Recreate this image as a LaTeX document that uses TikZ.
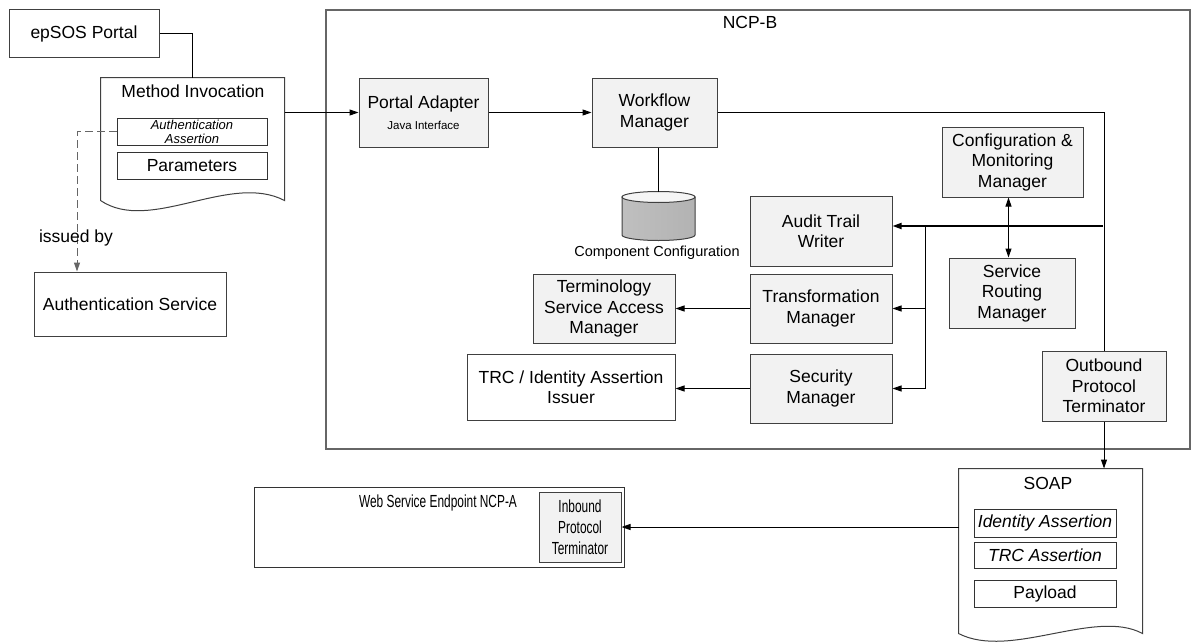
\documentclass[tikz,border=0pt]{standalone}
\usepackage{fontspec}
\usepackage{graphicx}
\setmainfont{Liberation Sans}
\newcommand{\squeeze}[1]{\scalebox{0.68}[1]{#1}}
\usetikzlibrary{positioning,arrows.meta}

\begin{document}
\begin{tikzpicture}[
x=1pt, y=-1pt, line width=1pt,
box/.style={draw=black!75, fill=gray!10, align=center, inner sep=2pt, font=\fontsize{17.5}{20.5}\selectfont},
plainbox/.style={box, fill=white},
subbox/.style={draw=black!80, fill=white, minimum width=150pt, minimum height=27pt, inner sep=0pt, align=center, font=\fontsize{17.5}{20}\selectfont},
label/.style={inner sep=0pt, align=center, font=\fontsize{17.5}{20.5}\selectfont},
doc/.style={draw=black!75, fill=white},
frame/.style={draw=black!60, line width=1.4pt},
arrow/.style={-{Triangle[length=9pt,width=6pt]}},
dblarrow/.style={{Triangle[length=9pt,width=6pt]}-{Triangle[length=9pt,width=6pt]}},
dasharrow/.style={arrow, draw=black!60, dash pattern=on 8pt off 4pt}
]
\useasboundingbox (0,0) rectangle (1191,642);
\clip (0,0) rectangle (1191,642);

% NCP-B frame
\node[frame, minimum width=864pt, minimum height=439pt] (ncpb) at (758,229.5) {};
\node[label] (ncpblabel) at (750,22) {NCP-B};

% left side
\node[plainbox, minimum width=150pt, minimum height=48pt] (portal) at (84,34) {epSOS Portal};
\node[minimum width=183pt, minimum height=122pt] (invoc) at (192.5,139) {};
\draw[doc] (invoc.north west) -- (invoc.north east) -- (invoc.south east)
  .. controls (230,172) and (150,234) .. (invoc.south west) -- cycle;
\node[label] (invoclabel) at (193,91) {Method Invocation};
\node[subbox, font=\fontsize{13}{14}\selectfont\itshape] (authas) at (192,131.5) {Authentication\\Assertion};
\node[subbox] (params) at (192,165.5) {Parameters};
\node[plainbox, minimum width=192pt, minimum height=64pt] (authsvc) at (130,304) {Authentication Service};

% NCP-B components
\node[box, minimum width=129pt, minimum height=69pt] (adapter) at (423.5,112.5) {Portal Adapter\\{\fontsize{11.5}{13}\selectfont Java Interface}};
\node[box, minimum width=125pt, minimum height=69pt] (workflow) at (654.5,112.5) {Workflow\\Manager};
\node[box, minimum width=141pt, minimum height=70pt] (config) at (1012.5,162) {Configuration \&\\Monitoring\\Manager};
\node[box, minimum width=142pt, minimum height=70pt] (audit) at (821,231) {Audit Trail\\Writer};
\node[box, minimum width=142pt, minimum height=69pt] (transf) at (821,308.5) {Transformation\\Manager};
\node[box, minimum width=142pt, minimum height=69pt] (security) at (821,388.5) {Security\\Manager};
\node[box, minimum width=126pt, minimum height=70pt] (routing) at (1012,293) {Service\\Routing\\Manager};
\node[box, minimum width=124pt, minimum height=70pt] (outbound) at (1104,386) {Outbound\\Protocol\\Terminator};
\node[box, minimum width=142pt, minimum height=69pt] (term) at (604,308.5) {Terminology\\Service Access\\Manager};
\node[plainbox, minimum width=208pt, minimum height=66pt] (trc) at (571,387) {TRC / Identity Assertion\\Issuer};

% component configuration store
\shade[left color=gray!50, middle color=gray!12, right color=gray!60, draw=black!75]
  (622,197) -- (622,235) arc[x radius=36.5, y radius=5.5, start angle=180, end angle=0]
  -- (695,197) -- cycle;
\filldraw[fill=gray!8, draw=black!75] (658.5,197) ellipse[x radius=36.5, y radius=5.5];
\coordinate (cyltop) at (658.5,191.5);
\node[label, font=\fontsize{14.5}{16}\selectfont] (cyllabel) at (657,253) {Component Configuration};

% NCP-A endpoint
\node[draw=black!80, minimum width=370pt, minimum height=80pt] (ncpa) at (439,527) {};
\node[label] (ncpalabel) at (438,503) {\squeeze{Web Service Endpoint NCP-A}};
\node[box, minimum width=82pt, minimum height=70pt, font=\fontsize{17.5}{21}\selectfont] (inbound) at (580,527) {\squeeze{Inbound}\\\squeeze{Protocol}\\\squeeze{Terminator}};

% SOAP message
\node[minimum width=183pt, minimum height=164pt] (soap) at (1050.5,551) {};
\draw[doc] (soap.north west) -- (soap.north east) -- (soap.south east)
  .. controls (1095,608) and (1010,660) .. (soap.south west) -- cycle;
\node[label] (soaplabel) at (1048,483) {SOAP};
\node[subbox, minimum width=142pt, minimum height=28pt, font=\fontsize{17.5}{20}\selectfont\itshape] (idas) at (1045,523) {Identity Assertion};
\node[subbox, minimum width=142pt, minimum height=26pt, font=\fontsize{17.5}{20}\selectfont\itshape] (trcas) at (1045,555) {TRC Assertion};
\node[subbox, minimum width=142pt, minimum height=27pt] (payload) at (1045,593.5) {Payload};

% connectors
\draw (portal.east) -| (invoc.north);
\draw[arrow] (invoc.east |- adapter.west) -- (adapter.west);
\draw[arrow] (adapter) -- (workflow);
\draw (workflow.east) -| (outbound.north);
\draw[arrow] (outbound.south) -- (outbound.south |- soap.north);
\draw (cyltop |- workflow.south) -- (cyltop);
\coordinate (busR) at (1103,226);
\coordinate (busJ) at (925,226);
\draw[arrow, line width=1.8pt] (busR) -- (audit.east |- busR);
\draw[arrow] (busJ) |- (transf.east);
\draw[arrow] (busJ) |- (security.east);
\draw[dblarrow] ([xshift=-4pt]config.south) -- ([xshift=-4pt]config.south |- routing.north);
\draw[arrow] (transf) -- (term);
\draw[arrow] (security.west) -- (security.west -| trc.east);
\draw[arrow] (soap.west |- inbound.east) -- (inbound.east);
\draw[dasharrow] (authas.west) -| ([xshift=-53pt]authsvc.north);
\node[label] (issued) at (76,238) {issued by};
\end{tikzpicture}
\end{document}
